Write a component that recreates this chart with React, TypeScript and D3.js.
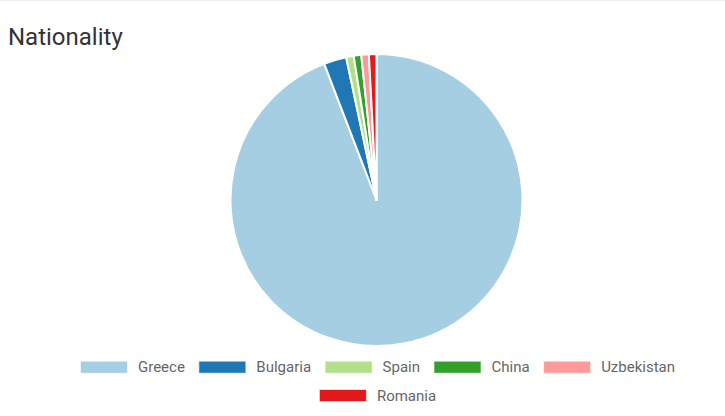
import React from "react";
import * as d3 from "d3";

const categories = ["Greece", "Bulgaria", "Spain", "China", "Uzbekistan", "Romania"];
const counts = [113, 3, 1, 1, 1, 1];
const colors = ["#a6cee3", "#1f78b4", "#b2df8a", "#33a02c", "#fb9a99", "#e31a1c"];
const title = "Nationality";

const W = 725;
const H = 416;
const LEGEND_FONT = "15px Roboto";

function measure(text: string, font: string): number {
  const c = document.createElement("canvas").getContext("2d");
  if (!c) return text.length * 8;
  c.font = font;
  return c.measureText(text).width;
}

export default function App() {
  const cx = 376.5;
  const cy = 200;
  const r = 146;
  const data = categories.map((c, i) => ({ name: c, value: counts[i], color: colors[i] }));
  const pie = d3.pie<any>().value((d) => d.value).sort(null).startAngle(0).endAngle(2 * Math.PI);
  const arcs = pie(data);
  const arc = d3.arc<any>().innerRadius(0).outerRadius(r);

  // legend layout
  const boxW = 48, boxH = 13, gap = 10, pad = 13.5, maxW = 640;
  const items = data.map((d) => ({ ...d, w: boxW + gap + measure(d.name, LEGEND_FONT) }));
  const rows: any[][] = [[]];
  let cur = 0;
  items.forEach((it) => {
    const add = (rows[rows.length - 1].length ? pad : 0) + it.w;
    if (cur + add > maxW && rows[rows.length - 1].length) {
      rows.push([it]);
      cur = it.w;
    } else {
      rows[rows.length - 1].push(it);
      cur += add;
    }
  });
  const legendCx = 377.5;
  const rowY = [360.7, 389];

  return (
    <div style={{ position: "fixed", left: 0, top: 0 }}>
      <svg width={W} height={H} style={{ display: "block", background: "#fff" }}>
        <line x1={0} x2={W} y1={0.5} y2={0.5} stroke="#eeeeee" />
        <text x={8} y={44.5} fontFamily="Roboto" fontSize={24} fill="#333">{title}</text>
        <g transform={`translate(${cx},${cy})`}>
          {arcs.map((a, i) => (
            <path key={i} d={arc(a) as string} fill={a.data.color} stroke="#fff" strokeWidth={2} strokeLinejoin="round" />
          ))}
        </g>
        {rows.map((row, ri) => {
          const total = row.reduce((s, it) => s + it.w, 0) + pad * (row.length - 1);
          let x = legendCx - total / 2;
          const y = rowY[ri] ?? rowY[0] + ri * 28.3;
          return row.map((it, j) => {
            const x0 = x;
            x += it.w + pad;
            return (
              <g key={`${ri}-${j}`}>
                <rect x={x0 + 0.5} y={y + 0.5} width={boxW - 1} height={boxH - 1} fill={it.color} stroke="#fff" strokeOpacity={0.6} />
                <text x={x0 + boxW + gap} y={y + boxH / 2} dy="0.35em" fontFamily="Roboto" fontSize={15} fill="#666">{it.name}</text>
              </g>
            );
          });
        })}
      </svg>
    </div>
  );
}
